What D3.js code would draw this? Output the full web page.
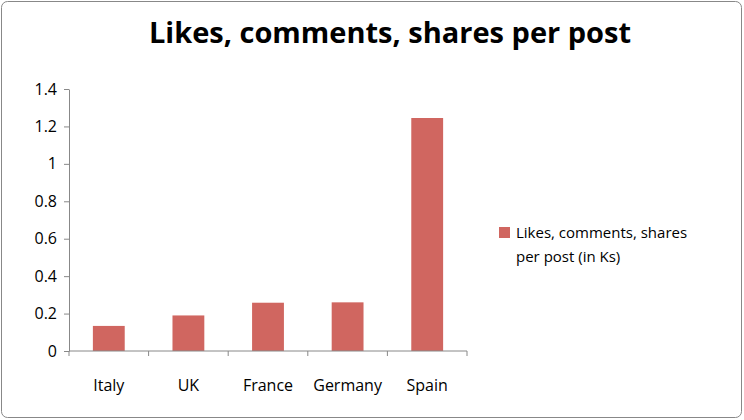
<!DOCTYPE html>
<html><head><meta charset="utf-8">
<script src="https://cdn.jsdelivr.net/npm/d3@7"></script>
<style>body{margin:0;background:#fff}text{font-family:"Open Sans","Liberation Sans",sans-serif}</style>
</head><body><svg id="c" width="744" height="420"></svg>
<script>
const categories = ["Italy", "UK", "France", "Germany", "Spain"];
const values = [0.134, 0.19, 0.258, 0.26, 1.245];
const yTicks = [0, 0.2, 0.4, 0.6, 0.8, 1, 1.2, 1.4];
const seriesName = ["Likes, comments, shares", "per post (in Ks)"];

const svg = d3.select("#c");
svg.append("rect").attr("x", 1.5).attr("y", 1.5).attr("width", 740).attr("height", 416)
  .attr("rx", 6).attr("fill", "#fff").attr("stroke", "#888");

svg.append("text").attr("x", 390).attr("y", 43).attr("text-anchor", "middle")
  .attr("font-size", 29).attr("font-weight", "bold").text("Likes, comments, shares per post");

const left = 69, right = 467;
const x = d3.scaleBand().domain(categories).range([left, right]).paddingInner(0.6).paddingOuter(0.3);
const y = d3.scaleLinear().domain([0, 1.4]).range([351, 89]);

const yAxis = svg.append("g").attr("transform", `translate(${left},0)`)
  .call(d3.axisLeft(y).tickValues(yTicks).tickFormat(d => d).tickSize(5).tickSizeOuter(0));
yAxis.selectAll("line,path").attr("stroke", "#888");
yAxis.selectAll("text").attr("font-size", 16).attr("fill", "#000").attr("dx", -4);

svg.selectAll(".bar").data(values).enter().append("rect")
  .attr("x", (d, i) => x(categories[i])).attr("width", x.bandwidth())
  .attr("y", d => y(d)).attr("height", d => y(0) - y(d)).attr("fill", "#d06660");

const step = (right - left) / categories.length;
const xb = svg.append("g");
xb.append("line").attr("x1", left).attr("x2", right).attr("y1", 351).attr("y2", 351).attr("stroke", "#888");
for (let i = 0; i <= categories.length; i++) {
  xb.append("line").attr("x1", left + step * i).attr("x2", left + step * i)
    .attr("y1", 351).attr("y2", 356).attr("stroke", "#888");
}
categories.forEach((c, i) => {
  xb.append("text").attr("x", left + step * (i + 0.5)).attr("y", 391).attr("text-anchor", "middle")
    .attr("font-size", 16).text(c);
});

svg.append("rect").attr("x", 499).attr("y", 227).attr("width", 11).attr("height", 11).attr("fill", "#d06660");
seriesName.forEach((t, i) => svg.append("text").attr("x", 516).attr("y", 238 + i * 24)
  .attr("font-size", 15).text(t));
</script></body></html>
